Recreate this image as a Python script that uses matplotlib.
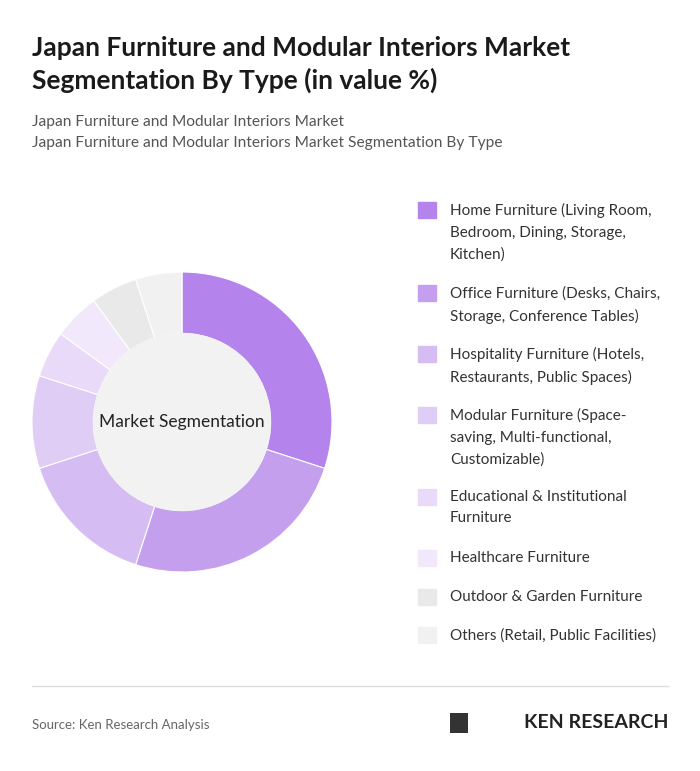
import matplotlib.pyplot as plt
from matplotlib.patches import Rectangle, Circle

labels = [
    "Home Furniture (Living Room,\nBedroom, Dining, Storage,\nKitchen)",
    "Office Furniture (Desks, Chairs,\nStorage, Conference Tables)",
    "Hospitality Furniture (Hotels,\nRestaurants, Public Spaces)",
    "Modular Furniture (Space-\nsaving, Multi-functional,\nCustomizable)",
    "Educational & Institutional\nFurniture",
    "Healthcare Furniture",
    "Outdoor & Garden Furniture",
    "Others (Retail, Public Facilities)",
]
values = [30, 25, 15, 10, 5, 5, 5, 5]
colors = ["#B583EC", "#C49FEE", "#D5BDF3", "#E0CDF6", "#E8DAF8", "#F1E9FB", "#E9E9E9", "#F1F1F1"]
legend_y = [210, 293, 354, 415, 497, 558, 597, 635]

W, H = 700, 771
fig = plt.figure(figsize=(W / 100, H / 100), dpi=100)
fig.patch.set_facecolor("white")
font = "Lato"

fig.text(32 / W, 1 - 48 / H, "Japan Furniture and Modular Interiors Market", fontsize=19,
         fontweight="bold", family=font, color="#1a1a1a", va="center")
fig.text(32 / W, 1 - 80 / H, "Segmentation By Type (in value %)", fontsize=19,
         fontweight="bold", family=font, color="#1a1a1a", va="center")
fig.text(32 / W, 1 - 122 / H, "Japan Furniture and Modular Interiors Market", fontsize=11.2,
         family=font, color="#555555", va="center")
fig.text(32 / W, 1 - 143 / H, "Japan Furniture and Modular Interiors Market Segmentation By Type",
         fontsize=11.2, family=font, color="#555555", va="center")

ax = fig.add_axes([32 / W, (H - 572) / H, 300 / W, 300 / H])
ax.pie(values, colors=colors, startangle=90, counterclock=False, radius=1,
       wedgeprops=dict(width=0.41, edgecolor="white", linewidth=0.8))
ax.add_patch(Circle((0, 0), 0.59, color="#F2F2F2", zorder=3))
ax.text(0, 0, "Market Segmentation", ha="center", va="center", fontsize=12.5,
        family=font, color="#222222", zorder=4)
ax.set_xlim(-1, 1)
ax.set_ylim(-1, 1)
ax.set_aspect("equal")
ax.axis("off")

for lab, col, y in zip(labels, colors, legend_y):
    fig.patches.append(Rectangle((418 / W, 1 - (y + 8) / H), 18 / W, 16 / H,
                                 transform=fig.transFigure, color=col))
    fig.text(450 / W, 1 - (y - 7) / H, lab, fontsize=11, family=font, color="#333333",
             va="top", linespacing=1.68)

fig.add_artist(plt.Line2D([32 / W, 668 / W], [1 - 686 / H, 1 - 686 / H], color="#dddddd", lw=1))
fig.text(32 / W, 1 - 725 / H, "Source: Ken Research Analysis", fontsize=9.5, family=font,
         color="#666666", va="center")
fig.text(668 / W, 1 - 723 / H, "KEN RESEARCH", fontsize=14, fontweight="bold", family=font,
         color="#222222", va="center", ha="right")
fig.patches.append(Rectangle((450 / W, 1 - 733 / H), 18 / W, 20 / H, transform=fig.transFigure,
                             facecolor="#333333"))

fig.savefig("out.png", dpi=100)
